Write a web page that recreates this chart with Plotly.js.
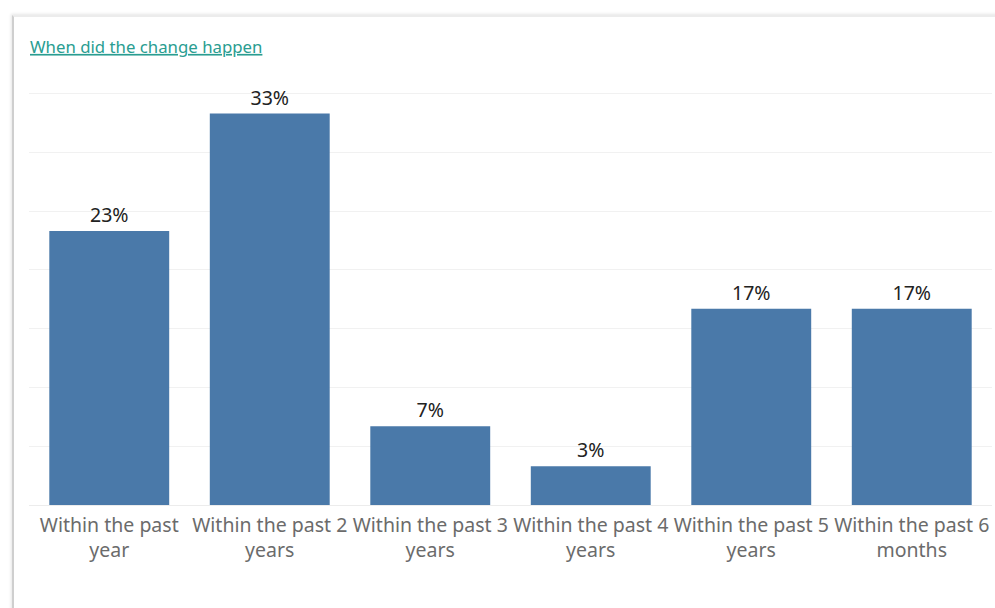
<!DOCTYPE html>
<html>
<head>
<meta charset="utf-8">
<script src="https://cdn.plot.ly/plotly-3.0.1.min.js"></script>
<style>
  html, body { margin: 0; padding: 0; background: #ffffff; }
  #card {
    position: absolute; left: 12px; top: 15px; width: 1000px; height: 620px;
    border-left: 2px solid #cfcfcf; border-top: 2px solid #ececec;
    box-shadow: -1px -1px 3px rgba(0,0,0,0.10);
    background: #ffffff;
  }
  #chart { position: absolute; left: 0; top: 0; width: 995px; height: 608px; }
</style>
</head>
<body>
<div id="card"></div>
<div id="chart"></div>
<script>
const categories = [
  "Within the past<br>year",
  "Within the past 2<br>years",
  "Within the past 3<br>years",
  "Within the past 4<br>years",
  "Within the past 5<br>years",
  "Within the past 6<br>months"
];
const percentValues = [23.3, 33.3, 6.7, 3.3, 16.7, 16.7];
const valueLabels = ["23%", "33%", "7%", "3%", "17%", "17%"];
const yTicks = [0, 5, 10, 15, 20, 25, 30, 35];

const trace = {
  type: "bar",
  x: categories,
  y: percentValues,
  text: valueLabels,
  textposition: "outside",
  cliponaxis: false,
  textfont: { family: "Noto Sans, sans-serif", size: 19.5, color: "#222222" },
  marker: { color: "#4a79a9" },
  hoverinfo: "none"
};

const layout = {
  width: 995, height: 608,
  paper_bgcolor: "rgba(0,0,0,0)",
  plot_bgcolor: "rgba(0,0,0,0)",
  margin: { l: 29, r: 3, t: 90, b: 103 },
  bargap: 0.253,
  showlegend: false,
  title: {
    text: "<u>When did the change happen</u>",
    xref: "container", yref: "container",
    x: 30 / 995, xanchor: "left",
    y: 1 - 47 / 608, yanchor: "middle",
    font: { family: "Noto Sans, sans-serif", size: 16.8, color: "#2a9d91" }
  },
  xaxis: {
    type: "category",
    showgrid: false, zeroline: false, showline: false,
    ticks: "", ticklabelstandoff: 6,
    tickfont: { family: "Noto Sans, sans-serif", size: 19.5, color: "#6b6b6b" }
  },
  yaxis: {
    range: [0, 35.3],
    tickvals: yTicks,
    showticklabels: false,
    showgrid: true, gridcolor: "#f1f1f1", gridwidth: 1,
    zeroline: true, zerolinecolor: "#ececec", zerolinewidth: 1,
    showline: false, ticks: ""
  }
};

Plotly.newPlot("chart", [trace], layout, { displayModeBar: false, staticPlot: true });
</script>
</body>
</html>
